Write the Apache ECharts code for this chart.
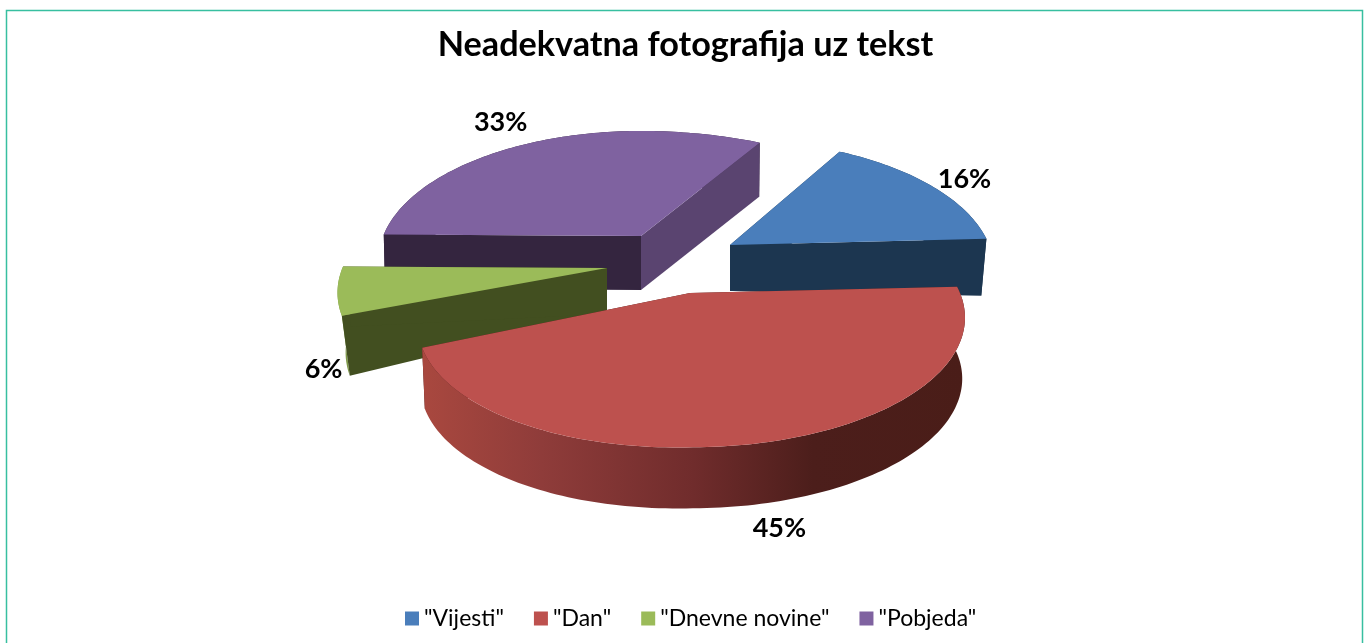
<!DOCTYPE html>
<html><head><meta charset="utf-8">
<style>html,body{margin:0;padding:0;background:#fff}#c{width:1371px;height:643px}</style>
<script src="https://cdn.jsdelivr.net/npm/echarts@6/dist/echarts.min.js"></script>
</head><body><div id="c"></div>
<script>
const titleText = 'Neadekvatna fotografija uz tekst';
const categories = ['"Vijesti"', '"Dan"', '"Dnevne novine"', '"Pobjeda"'];
const values = [16, 45, 6, 33];

// Styling / layout only
const topColors = ['#4a7ebb', '#bd514e', '#9bbb59', '#7f62a0'];
const startFaceColors = ['#1c3650', '#4a1e1a', '#424f20', '#34253f'];
const endFaceColors = ['#1c3650', '#4a1e1a', '#424f20', '#5a4470'];
const drawOrder = [3, 0, 2, 1];
const explode = [[50, -25], [10, 23], [-73, -2], [-39, -34]];
const sliceScale = [0.96, 0.99, 0.98, 0.955];
const rightScale = [1.0, 1.01, 1.0, 1.09];
const leftTilt = [0, 7.5, 0, 0];
const apexDepths = [46, 50, 46, 54];
const rimDepths = [57, 61, 60, 54];
const bottomShrink = [0.98, 0.99, 0.97, 0.995];
const labelPad = [[34, -6], [21, 85], [-14, 79], [-30, -21]];
const base = [680, 270];
const startAngle = 29.5, A = 270, B = 125, K = 0.19;
const labelFont = 'bold 27px Lato, sans-serif';

function project(deg, idx) {
  const t = deg * Math.PI / 180, u = Math.sin(t), v = Math.cos(t);
  const w = 1 + K * v;
  const s = sliceScale[idx] * (u > 0 ? rightScale[idx] : 1);
  return [A * s * u / w, -B * v / w + leftTilt[idx] * Math.max(0, -u)];
}
function renderSlice(idx) {
  return function (params, api) {
    const value = api.value(0), before = api.value(1);
    const a0 = startAngle + before * 3.6, a1 = a0 + value * 3.6;
    const ox = base[0] + explode[idx][0], oy = base[1] + explode[idx][1];
    const topAt = d => { const p = project(d, idx); return [ox + p[0], oy + p[1]]; };
    const botAt = d => { const p = project(d, idx); return [ox + p[0] * bottomShrink[idx], oy + p[1] + rimDepths[idx]]; };
    const n = Math.max(12, Math.round(value * 3));
    const topArc = [], botArc = [];
    for (let i = 0; i <= n; i++) {
      const d = a0 + (a1 - a0) * i / n;
      topArc.push(topAt(d)); botArc.push(botAt(d));
    }
    const apex = [ox, oy], apexB = [ox, oy + apexDepths[idx]];
    const poly = (pts, fill) => ({ type: 'polygon', shape: { points: pts }, style: { fill: fill, stroke: null } });
    const rimFill = idx === 1 ? new echarts.graphic.LinearGradient(0, 0, 1, 0, [
      { offset: 0, color: '#a9483f' }, { offset: 0.22, color: '#8f3c3a' }, { offset: 0.5, color: '#702c2c' },
      { offset: 0.72, color: '#4c1e1b' }, { offset: 1, color: '#4a1d18' }]) :
      idx === 2 ? '#7f9a48' : startFaceColors[idx];
    const lp = project((a0 + a1) / 2, idx);
    const faces = [
      poly([apex, topArc[0], botArc[0], apexB], startFaceColors[idx]),
      poly([apex, topArc[n], botArc[n], apexB], endFaceColors[idx])
    ];
    const rim = poly(topArc.concat(botArc.slice().reverse()), rimFill);
    // The big front slice hides its cut faces behind its rim; the others show them in front of it.
    const sides = idx === 1 ? faces.concat([rim]) : [rim].concat(faces);
    const children = sides.concat([
      poly([apex].concat(topArc), topColors[idx]),
      { type: 'text', style: {
          x: ox + lp[0] + labelPad[idx][0], y: oy + lp[1] + labelPad[idx][1],
          text: value + '%', fill: '#000', align: 'center', verticalAlign: 'middle',
          font: labelFont } }
    ]);
    return { type: 'group', children: children };
  };
}

let running = 0;
const series = categories.map((name, i) => {
  const item = [values[i], running];
  running += values[i];
  return {
    type: 'custom', name: name, coordinateSystem: 'none', silent: true,
    z: 2 + drawOrder.indexOf(i), itemStyle: { color: topColors[i] },
    renderItem: renderSlice(i), data: [item], animation: false
  };
});

const chart = echarts.init(document.getElementById('c'), null, { renderer: 'canvas' });
chart.setOption({
  animation: false,
  backgroundColor: '#fff',
  title: { text: titleText, left: 680.5, top: 23, textAlign: 'center',
    textStyle: { fontFamily: 'Lato, sans-serif', fontWeight: 'bold', fontSize: 34.2, color: '#000' } },
  legend: { data: categories, left: 400, top: 602, itemWidth: 14, itemHeight: 14, itemGap: 30,
    icon: 'rect', selectedMode: false,
    textStyle: { fontFamily: 'Lato, sans-serif', fontSize: 23, color: '#000' } },
  graphic: [{ type: 'rect', silent: true, z: 0,
    shape: { x: 6.5, y: 10.5, width: 1356, height: 660 },
    style: { fill: 'none', stroke: '#37bfa0', lineWidth: 1.5 } }],
  series: series
});
</script></body></html>
